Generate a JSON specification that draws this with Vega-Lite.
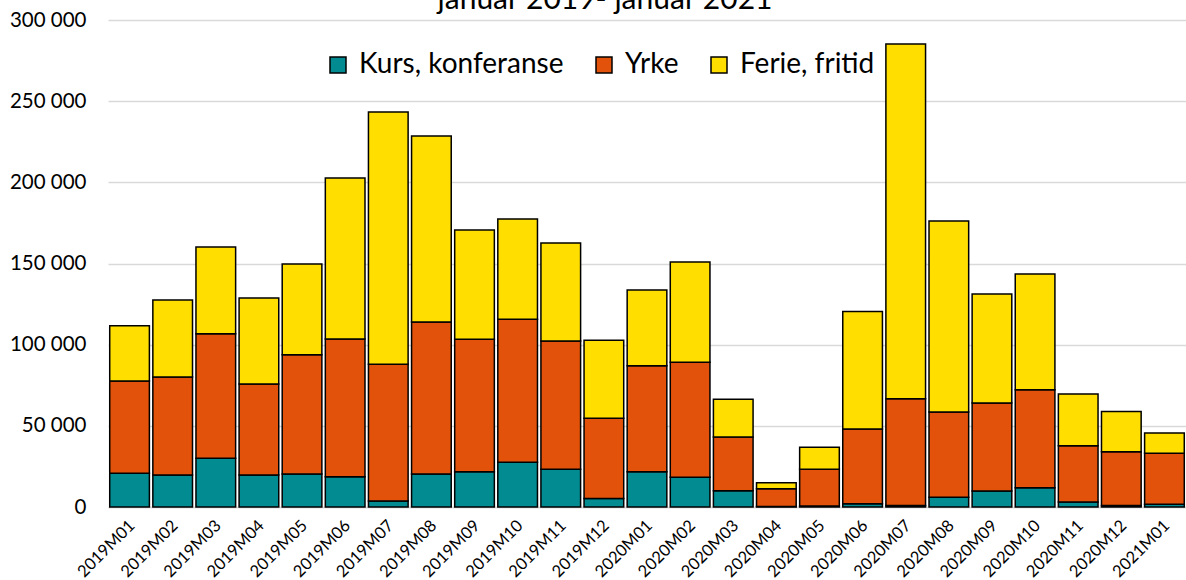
{
  "$schema": "https://vega.github.io/schema/vega-lite/v6.json",
  "width": 1078,
  "height": 487,
  "autosize": {"type": "none"},
  "padding": {"left": 108, "top": 20, "right": 0, "bottom": 73},
  "background": "white",
  "title": {"text": "januar 2019- januar 2021", "fontSize": 30, "font": "Lato", "fontWeight": "normal", "color": "#000000", "anchor": "middle", "offset": 0, "baseline": "alphabetic", "dy": 29, "dx": -42},
  "config": {
    "view": {"stroke": null},
    "font": "Lato"
  },
  "data": {"values": [
    {"maaned": "2019M01", "kategori": "Kurs, konferanse", "antall": 20750},
    {"maaned": "2019M01", "kategori": "Yrke", "antall": 56850},
    {"maaned": "2019M01", "kategori": "Ferie, fritid", "antall": 34100},
    {"maaned": "2019M02", "kategori": "Kurs, konferanse", "antall": 19700},
    {"maaned": "2019M02", "kategori": "Yrke", "antall": 60400},
    {"maaned": "2019M02", "kategori": "Ferie, fritid", "antall": 47400},
    {"maaned": "2019M03", "kategori": "Kurs, konferanse", "antall": 30000},
    {"maaned": "2019M03", "kategori": "Yrke", "antall": 76700},
    {"maaned": "2019M03", "kategori": "Ferie, fritid", "antall": 53500},
    {"maaned": "2019M04", "kategori": "Kurs, konferanse", "antall": 19700},
    {"maaned": "2019M04", "kategori": "Yrke", "antall": 56100},
    {"maaned": "2019M04", "kategori": "Ferie, fritid", "antall": 52900},
    {"maaned": "2019M05", "kategori": "Kurs, konferanse", "antall": 20300},
    {"maaned": "2019M05", "kategori": "Yrke", "antall": 73500},
    {"maaned": "2019M05", "kategori": "Ferie, fritid", "antall": 55900},
    {"maaned": "2019M06", "kategori": "Kurs, konferanse", "antall": 18700},
    {"maaned": "2019M06", "kategori": "Yrke", "antall": 84800},
    {"maaned": "2019M06", "kategori": "Ferie, fritid", "antall": 99200},
    {"maaned": "2019M07", "kategori": "Kurs, konferanse", "antall": 3700},
    {"maaned": "2019M07", "kategori": "Yrke", "antall": 84200},
    {"maaned": "2019M07", "kategori": "Ferie, fritid", "antall": 155400},
    {"maaned": "2019M08", "kategori": "Kurs, konferanse", "antall": 20300},
    {"maaned": "2019M08", "kategori": "Yrke", "antall": 93700},
    {"maaned": "2019M08", "kategori": "Ferie, fritid", "antall": 114500},
    {"maaned": "2019M09", "kategori": "Kurs, konferanse", "antall": 21700},
    {"maaned": "2019M09", "kategori": "Yrke", "antall": 81600},
    {"maaned": "2019M09", "kategori": "Ferie, fritid", "antall": 67300},
    {"maaned": "2019M10", "kategori": "Kurs, konferanse", "antall": 27500},
    {"maaned": "2019M10", "kategori": "Yrke", "antall": 88100},
    {"maaned": "2019M10", "kategori": "Ferie, fritid", "antall": 61800},
    {"maaned": "2019M11", "kategori": "Kurs, konferanse", "antall": 23200},
    {"maaned": "2019M11", "kategori": "Yrke", "antall": 79100},
    {"maaned": "2019M11", "kategori": "Ferie, fritid", "antall": 60300},
    {"maaned": "2019M12", "kategori": "Kurs, konferanse", "antall": 5300},
    {"maaned": "2019M12", "kategori": "Yrke", "antall": 49300},
    {"maaned": "2019M12", "kategori": "Ferie, fritid", "antall": 48100},
    {"maaned": "2020M01", "kategori": "Kurs, konferanse", "antall": 21700},
    {"maaned": "2020M01", "kategori": "Yrke", "antall": 65300},
    {"maaned": "2020M01", "kategori": "Ferie, fritid", "antall": 46700},
    {"maaned": "2020M02", "kategori": "Kurs, konferanse", "antall": 18300},
    {"maaned": "2020M02", "kategori": "Yrke", "antall": 70800},
    {"maaned": "2020M02", "kategori": "Ferie, fritid", "antall": 61800},
    {"maaned": "2020M03", "kategori": "Kurs, konferanse", "antall": 10000},
    {"maaned": "2020M03", "kategori": "Yrke", "antall": 33100},
    {"maaned": "2020M03", "kategori": "Ferie, fritid", "antall": 23200},
    {"maaned": "2020M04", "kategori": "Kurs, konferanse", "antall": 300},
    {"maaned": "2020M04", "kategori": "Yrke", "antall": 11000},
    {"maaned": "2020M04", "kategori": "Ferie, fritid", "antall": 3700},
    {"maaned": "2020M05", "kategori": "Kurs, konferanse", "antall": 600},
    {"maaned": "2020M05", "kategori": "Yrke", "antall": 22600},
    {"maaned": "2020M05", "kategori": "Ferie, fritid", "antall": 13600},
    {"maaned": "2020M06", "kategori": "Kurs, konferanse", "antall": 2000},
    {"maaned": "2020M06", "kategori": "Yrke", "antall": 46000},
    {"maaned": "2020M06", "kategori": "Ferie, fritid", "antall": 72500},
    {"maaned": "2020M07", "kategori": "Kurs, konferanse", "antall": 1000},
    {"maaned": "2020M07", "kategori": "Yrke", "antall": 65700},
    {"maaned": "2020M07", "kategori": "Ferie, fritid", "antall": 218500},
    {"maaned": "2020M08", "kategori": "Kurs, konferanse", "antall": 6000},
    {"maaned": "2020M08", "kategori": "Yrke", "antall": 52500},
    {"maaned": "2020M08", "kategori": "Ferie, fritid", "antall": 117700},
    {"maaned": "2020M09", "kategori": "Kurs, konferanse", "antall": 9900},
    {"maaned": "2020M09", "kategori": "Yrke", "antall": 54200},
    {"maaned": "2020M09", "kategori": "Ferie, fritid", "antall": 67100},
    {"maaned": "2020M10", "kategori": "Kurs, konferanse", "antall": 11900},
    {"maaned": "2020M10", "kategori": "Yrke", "antall": 60400},
    {"maaned": "2020M10", "kategori": "Ferie, fritid", "antall": 71200},
    {"maaned": "2020M11", "kategori": "Kurs, konferanse", "antall": 3100},
    {"maaned": "2020M11", "kategori": "Yrke", "antall": 34700},
    {"maaned": "2020M11", "kategori": "Ferie, fritid", "antall": 31800},
    {"maaned": "2020M12", "kategori": "Kurs, konferanse", "antall": 1000},
    {"maaned": "2020M12", "kategori": "Yrke", "antall": 33100},
    {"maaned": "2020M12", "kategori": "Ferie, fritid", "antall": 24800},
    {"maaned": "2021M01", "kategori": "Kurs, konferanse", "antall": 1700},
    {"maaned": "2021M01", "kategori": "Yrke", "antall": 31400},
    {"maaned": "2021M01", "kategori": "Ferie, fritid", "antall": 12500}
  ]},
  "transform": [
    {"calculate": "indexof(['Kurs, konferanse', 'Yrke', 'Ferie, fritid'], datum.kategori)", "as": "rekke"}
  ],
  "mark": {"type": "bar", "stroke": "#000000", "strokeWidth": 1.5},
  "encoding": {
    "x": {
      "field": "maaned", "type": "nominal", "sort": null,
      "scale": {"paddingInner": 0.08, "paddingOuter": 0.04},
      "axis": {"title": null, "labelAngle": -45, "labelFontSize": 16.5, "labelColor": "#000000", "labelFont": "Lato", "ticks": false, "domainColor": "#d9d9d9", "domainWidth": 1.5, "labelPadding": 10, "labelOffset": -3}
    },
    "y": {
      "field": "antall", "type": "quantitative", "aggregate": "sum", "stack": "zero",
      "scale": {"domain": [0, 300000], "nice": false},
      "axis": {"title": null, "values": [0, 50000, 100000, 150000, 200000, 250000, 300000], "labelExpr": "replace(format(datum.value, ','), ',', ' ')", "labelFontSize": 20.5, "labelColor": "#000000", "labelFont": "Lato", "ticks": false, "domain": false, "gridColor": "#d9d9d9", "gridWidth": 1.5, "labelPadding": 22}
    },
    "color": {
      "field": "kategori", "type": "nominal",
      "sort": ["Kurs, konferanse", "Yrke", "Ferie, fritid"],
      "scale": {"domain": ["Kurs, konferanse", "Yrke", "Ferie, fritid"], "range": ["#028B91", "#E2520A", "#FFDE00"]},
      "legend": {"title": null, "orient": "none", "legendX": 216, "legendY": 31, "direction": "horizontal", "symbolType": "square", "symbolSize": 256, "symbolStrokeColor": "#000000", "symbolStrokeWidth": 1.5, "labelFontSize": 28, "labelFont": "Lato", "labelColor": "#000000", "columnPadding": 26, "labelOffset": 7, "padding": 0, "labelLimit": 400}
    },
    "order": {"field": "rekke", "type": "quantitative", "sort": "ascending"}
  }
}
